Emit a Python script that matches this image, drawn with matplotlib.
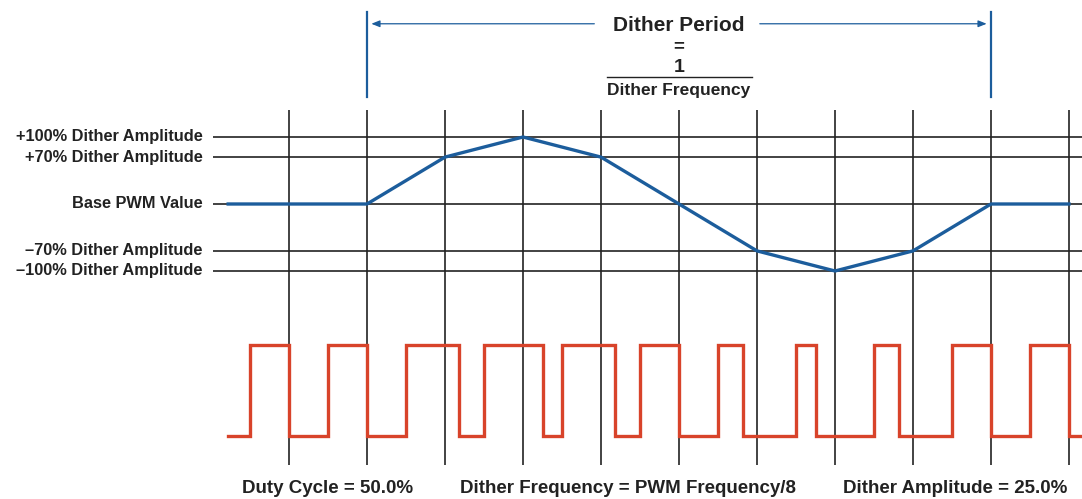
import numpy as np
import matplotlib
matplotlib.use("Agg")
from matplotlib import pyplot as plt

# dither level (fraction of amplitude) at each PWM period centre, periods 1..11
period_idx = [1, 2, 3, 4, 5, 6, 7, 8, 9, 10, 11]
dither_level = [0, 0, 0.7, 1, 0.7, 0, -0.7, -1, -0.7, 0, 0]
base_duty = 50.0
dither_amp = 25.0
duty_cycle = [base_duty + dither_amp * v for v in dither_level]  # percent

level_values = [1.0, 0.7, 0.0, -0.7, -1.0]
level_labels = ["+100% Dither Amplitude", "+70% Dither Amplitude", "Base PWM Value",
                "\u201370% Dither Amplitude", "\u2013100% Dither Amplitude"]
bottom_labels = ["Duty Cycle = 50.0%", "Dither Frequency = PWM Frequency/8",
                 "Dither Amplitude = 25.0%"]

BLUE = "#1c5d9c"
RED = "#d8432a"
GRID = "#222222"
TXT = "#222222"

# layout (data units: x = PWM periods, y = dither amplitude)
x_start = 0.22
pwm_hi, pwm_lo = -2.10, -3.46
v_top, v_bot = 1.40, -3.90

fig = plt.figure(figsize=(10.82, 4.99), dpi=100)
ax = fig.add_axes([0, 0, 1, 1])
ax.set_xlim(-211 / 78, (1082 - 211) / 78)
ax.set_ylim((204 - 499) / 67, 204 / 67)
ax.axis("off")

# grid
for lv, lab in zip(level_values, level_labels):
    ax.plot([0.03, 12], [lv, lv], color=GRID, lw=1.2, zorder=1, solid_capstyle="butt")
    ax.text(-0.11, lv, lab, ha="right", va="center", fontsize=11.8, fontweight="bold",
            color=TXT, family="Liberation Sans")
for p in period_idx:
    ax.plot([p, p], [v_bot, v_top], color=GRID, lw=1.2, zorder=1, solid_capstyle="butt")

# dither waveform
ax.plot([x_start] + period_idx, [0] + dither_level, color=BLUE, lw=2.4, zorder=3)

# PWM waveform
xs = [x_start]
ys = [pwm_lo]
for p, d in zip(period_idx, duty_cycle):
    s = p - 0.5
    e = s + d / 100.0
    xs += [s, s, e, e]
    ys += [pwm_lo, pwm_hi, pwm_hi, pwm_lo]
xs.append(12)
ys.append(pwm_lo)
ax.plot(xs, ys, color=RED, lw=2.4, zorder=3, solid_joinstyle="miter")

# dither period marker
p0, p1 = 2, 10
m_top, m_bot, arr_y = 2.87, 1.60, 2.69
for p in (p0, p1):
    ax.plot([p, p], [m_bot, m_top], color=BLUE, lw=1.6)
ax.annotate("", xy=(p0 + 0.02, arr_y), xytext=(4.95, arr_y),
            arrowprops=dict(arrowstyle="-|>,head_length=0.5,head_width=0.2", color=BLUE, lw=0.9))
ax.annotate("", xy=(p1 - 0.02, arr_y), xytext=(7.0, arr_y),
            arrowprops=dict(arrowstyle="-|>,head_length=0.5,head_width=0.2", color=BLUE, lw=0.9))

cx = 6.0
ax.text(cx, 2.66, "Dither Period", ha="center", va="center", fontsize=15,
        fontweight="bold", color=TXT, family="Liberation Sans")
ax.text(cx, 2.35, "=", ha="center", va="center", fontsize=13.5,
        fontweight="bold", color=TXT, family="Liberation Sans")
ax.text(cx, 2.04, "1", ha="center", va="center", fontsize=14,
        fontweight="bold", color=TXT, family="Liberation Sans")
ax.plot([5.08, 6.94], [1.90, 1.90], color=TXT, lw=1.0)
ax.text(cx, 1.70, "Dither Frequency", ha="center", va="center", fontsize=12.5,
        fontweight="bold", color=TXT, family=["Liberation Sans Narrow", "Liberation Sans"])

# bottom notes
for xc, txt in zip([1.50, 5.35, 9.54], bottom_labels):
    ax.text(xc, -4.25, txt, ha="center", va="center", fontsize=13.5, fontweight="bold",
            color=TXT, family="Liberation Sans")

fig.savefig("out.png", dpi=100)
